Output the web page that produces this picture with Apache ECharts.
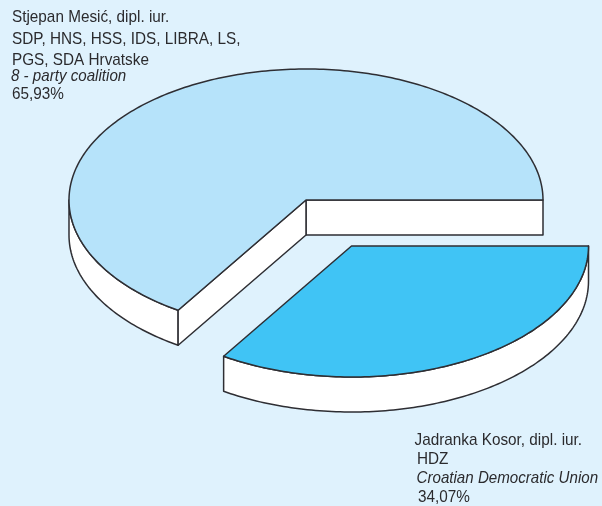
<!DOCTYPE html>
<html><head><meta charset="utf-8">
<style>html,body{margin:0;padding:0;background:#dff2fd}#c{width:602px;height:506px}</style>
<script src="https://cdn.jsdelivr.net/npm/echarts@6/dist/echarts.min.js"></script>
</head><body><div id="c"></div>
<script>
const categories = ['Stjepan Mesić', 'Jadranka Kosor'];
const shares = [65.93, 34.07];
const sliceColors = ['#b6e3fa', '#40c4f5'];
const leftLabel = ['Stjepan Mesić, dipl. iur.', 'SDP, HNS, HSS, IDS, LIBRA, LS,', 'PGS, SDA Hrvatske', '8 - party coalition', '65,93%'];
const rightLabel = ['Jadranka Kosor, dipl. iur.', 'HDZ', 'Croatian Democratic Union', '34,07%'];

const RX = 237, RY = 131, DEPTH = 35;
const centers = [[306, 200], [351.5, 246]];
const EDGE = '#2e2e33', SIDE = '#ffffff', LW = 1.5;
const total = shares.reduce((a, b) => a + b, 0);

function pt(c, deg, dy) {
  const r = deg * Math.PI / 180;
  return [c[0] + RX * Math.cos(r), c[1] + RY * Math.sin(r) + (dy || 0)];
}
function arc(c, a0, a1, dy) {
  const out = [], n = Math.max(2, Math.ceil(Math.abs(a1 - a0)));
  for (let i = 0; i <= n; i++) out.push(pt(c, a0 + (a1 - a0) * i / n, dy));
  return out;
}
function poly(points, fill) {
  return { type: 'polygon', shape: { points }, style: { fill, stroke: EDGE, lineWidth: LW, lineJoin: 'round' } };
}
function renderSlice(params, api) {
  const i = params.dataIndex;
  let before = 0;
  for (let k = 0; k < i; k++) before += shares[k];
  // angles decrease counter-clockwise on screen from the 3 o'clock position
  const start = 360 - before / total * 360;
  const end = start - api.value(1) / total * 360;
  const c = centers[i];
  const children = [];
  // outer rim: only the part facing the viewer (0..180 deg, below the centre)
  const frontFrom = Math.min(start, 180), frontTo = Math.max(end, 0);
  if (frontFrom > frontTo) {
    const top = arc(c, frontFrom, frontTo, 0);
    const bottom = arc(c, frontTo, frontFrom, DEPTH);
    children.push(poly(top.concat(bottom), SIDE));
  }
  if (i === 0) {
    // cut faces visible through the missing wedge
    const e0 = pt(c, start, 0), e1 = pt(c, end, 0);
    children.push(poly([c, e0, [e0[0], e0[1] + DEPTH], [c[0], c[1] + DEPTH]], SIDE));
    children.push(poly([c, e1, [e1[0], e1[1] + DEPTH], [c[0], c[1] + DEPTH]], SIDE));
  }
  children.push(poly([c].concat(arc(c, start, end, 0)), api.visual('color')));
  return { type: 'group', children };
}

function textEl(text, x, y, italic) {
  return {
    type: 'text', x, y, scaleX: italic ? 0.89 : 0.9, silent: true,
    style: { text, fill: '#2b2b2e', font: (italic ? 'italic ' : '') + '17px "Liberation Sans"', verticalAlign: 'middle', align: 'left' }
  };
}
const leftPos = [[12, 17], [12, 39], [12, 60], [11, 76], [12, 94]];
const rightPos = [[414.5, 440], [417, 459], [416.5, 478], [418, 497]];
const texts = leftLabel.map((t, i) => textEl(t, leftPos[i][0], leftPos[i][1], i === 3))
  .concat(rightLabel.map((t, i) => textEl(t, rightPos[i][0], rightPos[i][1], i === 2)));

const chart = echarts.init(document.getElementById('c'), null, { renderer: 'canvas' });
chart.setOption({
  animation: false,
  backgroundColor: '#dff2fd',
  graphic: { elements: texts },
  series: [{
    type: 'custom',
    coordinateSystem: 'none',
    renderItem: renderSlice,
    encode: { value: 1 },
    silent: true,
    data: categories.map((name, i) => ({ name, value: [i, shares[i]], itemStyle: { color: sliceColors[i] } }))
  }]
});
</script></body></html>
